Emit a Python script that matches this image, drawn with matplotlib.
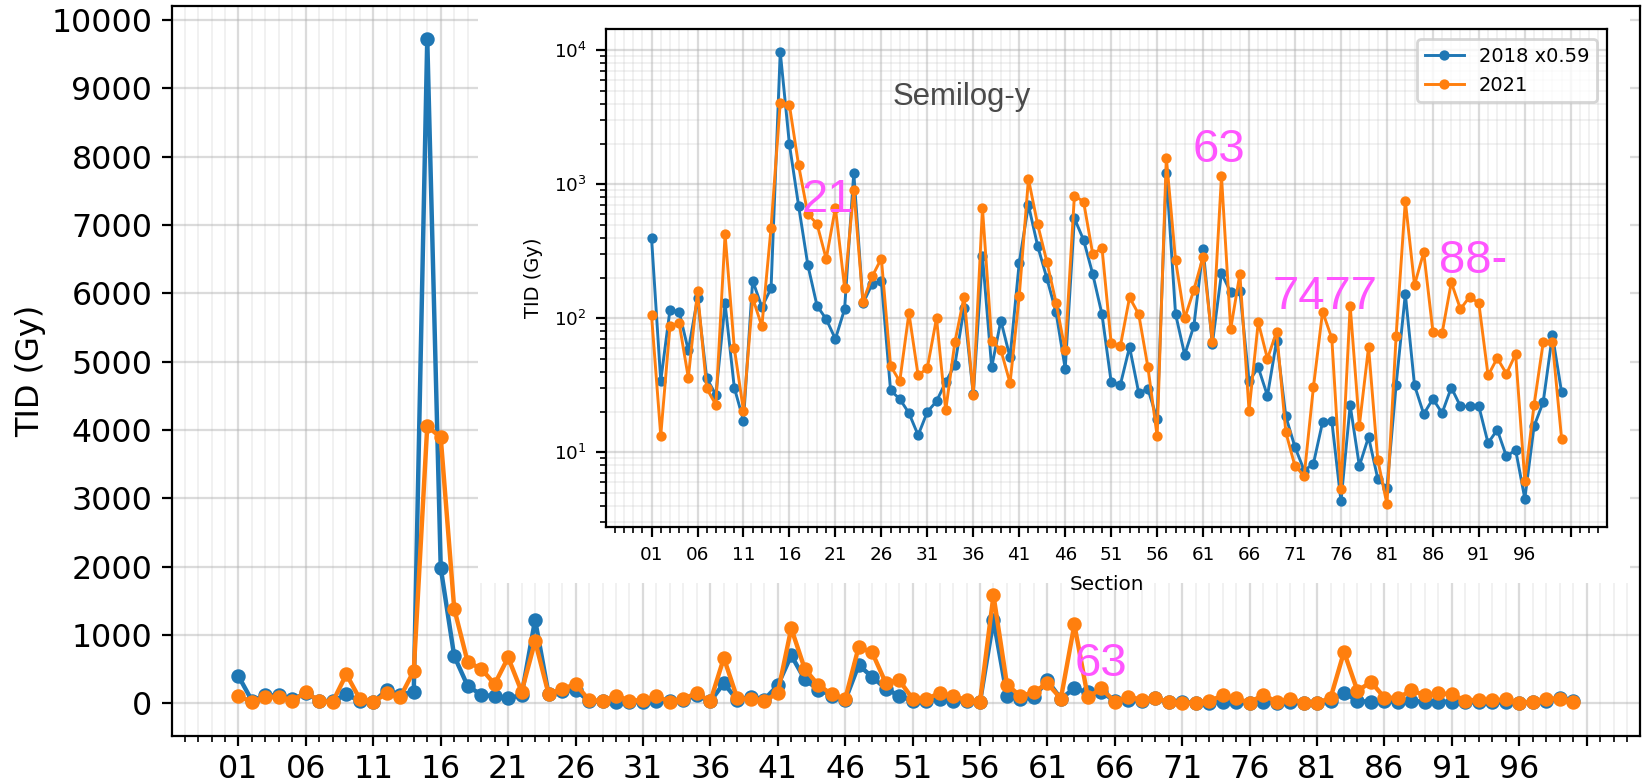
import matplotlib
matplotlib.use("Agg")
import matplotlib.pyplot as plt
from matplotlib.patches import Rectangle
from matplotlib.ticker import FixedLocator, MultipleLocator

# section names 01..100
sections = [f"{i:02d}" for i in range(1, 101)]
x = list(range(1, len(sections) + 1))

# TID (Gy), 2018 values already scaled by 0.59
tid_2018 = [395, 34, 115, 112, 57.5, 141, 35.7, 26.8, 129, 30.4,
            17.2, 191, 121, 167, 9725, 1982, 689, 250, 124, 98.5,
            70, 117, 1219, 129, 180, 190, 28.9, 25, 19.6, 13.4,
            20, 24, 33.4, 45, 119, 27, 290, 43, 96, 51,
            260, 700, 347, 199, 111, 42, 557, 384, 213, 107,
            33.4, 31.9, 61, 27.7, 29.6, 17.7, 1219, 108, 53.3, 88,
            331, 64, 217, 156, 161, 33.8, 43, 26.4, 68, 18.5,
            10.9, 7.3, 8.2, 16.8, 17.2, 4.3, 22.4, 7.9, 13.0, 6.35,
            5.4, 31.9, 152, 31.6, 19.3, 25, 19.6, 30.4, 22, 22,
            22, 11.7, 14.7, 9.3, 10.4, 4.5, 15.6, 23.7, 75, 28]
tid_2021 = [105, 13.3, 87, 92, 36, 159, 29.9, 22.6, 423, 60,
            20.4, 142, 87, 472, 4055, 3890, 1384, 600, 505, 277,
            668, 169, 906, 133, 205, 279, 44.2, 33.8, 109, 37.4,
            42.5, 100, 20.5, 66.4, 145, 26.9, 661, 68, 58, 32.8,
            147, 1095, 502, 265, 131, 57.5, 822, 741, 300, 336,
            65, 62, 143, 107, 43, 13.2, 1578, 272, 100, 163,
            288, 67, 1151, 83, 214, 20.4, 93.5, 49.8, 79.6, 14.1,
            7.85, 6.7, 30.5, 112, 71, 5.3, 124, 15.8, 60.8, 8.8,
            4.1, 74, 750, 177, 311, 79.6, 77.4, 185, 117, 145,
            129, 37.4, 50.4, 38.5, 54, 6.1, 22.4, 66, 66, 12.6]

# pink section notes (label, x, y)
main_notes = [("63", 63, 400)]
inset_notes = [("21", 17.3, 621), ("63", 59.9, 1462),
               ("7477", 68.6, 117), ("88-", 86.7, 218)]

BLUE, ORANGE, PINK = "#1f77b4", "#ff7f0e", "#ff55ff"
tick_pos = list(range(1, 102, 5))
tick_lab = [sections[p - 1] if p <= len(sections) else "" for p in tick_pos]


def style_grid(ax):
    ax.set_axisbelow(True)
    ax.grid(which="major", color="#b0b0b0", alpha=0.45, lw=0.8)
    ax.grid(which="minor", color="#b0b0b0", alpha=0.2, lw=0.6)
    ax.xaxis.set_major_locator(FixedLocator(tick_pos))
    ax.xaxis.set_minor_locator(MultipleLocator(1))
    ax.set_xticklabels(tick_lab)


fig = plt.figure(figsize=(8.25, 3.915), dpi=200)

ax = fig.add_axes([0.1041, 0.0600, 0.8898, 0.9327])
ax.plot(x, tid_2018, "o-", color=BLUE, lw=1.6, ms=4.2)
ax.plot(x, tid_2021, "o-", color=ORANGE, lw=1.6, ms=4.2)
style_grid(ax)
ax.set_yticks(range(0, 10001, 1000))
ax.tick_params(labelsize=11.4)
ax.tick_params(axis="x", pad=2.8)
ax.set_ylabel("TID (Gy)", fontsize=11.5, labelpad=2)
for t, tx, ty in main_notes:
    ax.text(tx, ty, t, color=PINK, fontsize=17, family="Liberation Sans")
# white panel behind the inset
ax.add_patch(Rectangle((0.2897, 0.2554), 0.6982, 0.75, transform=fig.transFigure,
                       facecolor="white", edgecolor="none", zorder=1.5))

ins = fig.add_axes([0.3673, 0.3273, 0.6067, 0.6353])
ins.plot(x, tid_2018, "o-", color=BLUE, lw=1.05, ms=2.7, label="2018 x0.59")
ins.plot(x, tid_2021, "o-", color=ORANGE, lw=1.05, ms=2.7, label="2021")
ins.set_yscale("log")
style_grid(ins)
ins.tick_params(labelsize=6.6)
ins.set_xlabel("Section", fontsize=7.2)
ins.set_ylabel("TID (Gy)", fontsize=7)
ins.legend(loc="upper right", fontsize=7)
ins.text(0.2867, 0.8478, "Semilog-y", transform=ins.transAxes, color="#4a4a4a",
         fontsize=11.2, family="Liberation Sans")
for t, tx, ty in inset_notes:
    ins.text(tx, ty, t, color=PINK, fontsize=17, family="Liberation Sans")

fig.savefig("out.png", dpi=200)
